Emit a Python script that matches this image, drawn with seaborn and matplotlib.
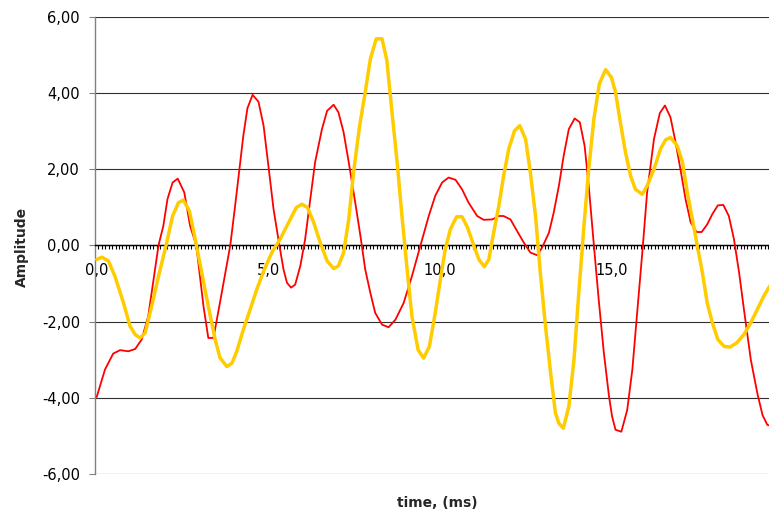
import matplotlib
matplotlib.use("Agg")
import matplotlib.pyplot as plt
import numpy as np
import pandas as pd
import seaborn as sns
from matplotlib.ticker import FixedLocator, FuncFormatter, MultipleLocator

# ---------------- data ----------------
red_t = [0.00, 0.24, 0.48, 0.68, 0.92, 1.12, 1.31, 1.50, 1.80, 1.94, 2.06, 2.21, 2.36, 2.55,
         2.72, 2.90, 3.11, 3.25, 3.40, 3.59, 3.89, 4.03, 4.18, 4.27, 4.39, 4.54, 4.71, 4.86,
         5.00, 5.15, 5.32, 5.44, 5.54, 5.66, 5.78, 5.93, 6.07, 6.22, 6.36, 6.56, 6.71, 6.90,
         7.04, 7.19, 7.34, 7.53, 7.68, 7.82, 7.97, 8.11, 8.31, 8.50, 8.70, 8.94, 9.18, 9.43,
         9.67, 9.86, 10.06, 10.25, 10.45, 10.64, 10.83, 11.08, 11.27, 11.52, 11.71, 11.85,
         12.05, 12.24, 12.44, 12.63, 12.83, 12.97, 13.17, 13.31, 13.46, 13.60, 13.75, 13.92,
         14.07, 14.21, 14.33, 14.48, 14.62, 14.77, 14.92, 15.01, 15.11, 15.28, 15.45, 15.60,
         15.74, 15.89, 16.03, 16.23, 16.40, 16.55, 16.71, 16.86, 17.00, 17.15, 17.30, 17.47,
         17.62, 17.78, 17.93, 18.09, 18.25, 18.41, 18.56, 18.71, 18.85, 19.05, 19.24, 19.39,
         19.53, 19.60]
red_v = [-3.98, -3.26, -2.84, -2.75, -2.78, -2.72, -2.47, -1.86, 0.00, 0.51, 1.21, 1.65, 1.75, 1.39,
         0.51, 0.00, -1.60, -2.43, -2.43, -1.50, 0.00, 1.03, 2.18, 2.88, 3.60, 3.95, 3.77, 3.14,
         2.09, 0.95, 0.00, -0.63, -0.98, -1.11, -1.03, -0.54, 0.16, 1.21, 2.18, 3.05, 3.53, 3.69,
         3.49, 2.97, 2.18, 1.12, 0.25, -0.63, -1.25, -1.77, -2.08, -2.15, -1.95, -1.51, -0.81, 0.00,
         0.77, 1.30, 1.65, 1.78, 1.72, 1.47, 1.12, 0.77, 0.67, 0.68, 0.77, 0.77,
         0.68, 0.38, 0.07, -0.19, -0.26, -0.06, 0.33, 0.86, 1.56, 2.35, 3.05, 3.33,
         3.23, 2.61, 1.56, 0.00, -1.42, -2.82, -3.96, -4.49, -4.84, -4.89, -4.32, -3.26,
         -1.77, -0.19, 1.39, 2.79, 3.47, 3.67, 3.36, 2.70, 2.00, 1.21, 0.60, 0.35,
         0.35, 0.55, 0.82, 1.05, 1.06, 0.77, 0.16, -0.72, -1.68, -3.00, -3.88, -4.45,
         -4.71, -4.73]

yel_t = [0.00, 0.15, 0.34, 0.53, 0.78, 0.97, 1.12, 1.26, 1.41, 1.60, 1.80, 2.02, 2.21, 2.38,
         2.52, 2.70, 2.87, 3.06, 3.25, 3.45, 3.59, 3.79, 3.94, 4.08, 4.27, 4.47, 4.66, 4.86,
         5.10, 5.34, 5.59, 5.81, 5.98, 6.14, 6.32, 6.51, 6.71, 6.90, 7.04, 7.19, 7.34, 7.48,
         7.58, 7.66, 7.82, 7.97, 8.14, 8.31, 8.45, 8.60, 8.75, 8.89, 9.04, 9.18, 9.36, 9.52,
         9.69, 9.86, 10.01, 10.15, 10.30, 10.48, 10.64, 10.80, 10.98, 11.13, 11.29, 11.42,
         11.56, 11.71, 11.85, 12.00, 12.17, 12.32, 12.49, 12.63, 12.78, 12.92, 13.07, 13.22,
         13.36, 13.46, 13.59, 13.75, 13.90, 14.04, 14.19, 14.33, 14.48, 14.64, 14.82, 14.99,
         15.11, 15.25, 15.40, 15.55, 15.69, 15.89, 16.03, 16.23, 16.42, 16.57, 16.71, 16.91,
         17.06, 17.20, 17.35, 17.49, 17.64, 17.78, 17.93, 18.09, 18.27, 18.44, 18.64, 18.85,
         19.05, 19.24, 19.43, 19.60]
yel_v = [-0.37, -0.31, -0.41, -0.81, -1.51, -2.12, -2.34, -2.43, -2.30, -1.60, -0.81, 0.00, 0.77, 1.12,
         1.19, 0.90, 0.16, -0.72, -1.60, -2.47, -2.95, -3.18, -3.09, -2.78, -2.21, -1.68, -1.16, -0.68,
         -0.19, 0.16, 0.60, 0.99, 1.08, 0.99, 0.60, 0.07, -0.41, -0.61, -0.54, -0.19, 0.68, 1.91,
         2.61, 3.15, 4.02, 4.89, 5.42, 5.42, 4.85, 3.49, 2.18, 0.77, -0.63, -1.86, -2.74, -2.96,
         -2.65, -1.77, -0.89, -0.11, 0.42, 0.75, 0.75, 0.47, 0.00, -0.37, -0.56, -0.37,
         0.33, 1.03, 1.82, 2.53, 3.01, 3.14, 2.79, 1.91, 0.77, -0.72, -2.12, -3.35,
         -4.40, -4.67, -4.80, -4.23, -3.00, -1.25, 0.51, 2.00, 3.32, 4.24, 4.61, 4.41,
         4.02, 3.23, 2.44, 1.82, 1.47, 1.34, 1.56, 2.00, 2.53, 2.77, 2.83, 2.61,
         2.18, 1.39, 0.68, 0.00, -0.72, -1.51, -2.03, -2.47, -2.65, -2.67, -2.56, -2.34,
         -2.03, -1.68, -1.33, -1.07]

x_major = [0, 5, 10, 15]
x_labels = ["0,0", "5,0", "10,0", "15,0"]
y_major = [-6, -4, -2, 0, 2, 4, 6]

df = pd.concat([
    pd.DataFrame({"time": red_t, "amp": red_v, "series": "Series 1"}),
    pd.DataFrame({"time": yel_t, "amp": yel_v, "series": "Series 2"}),
], ignore_index=True)

# ---------------- plot ----------------
sns.set_theme(style="white")
plt.rcParams["font.family"] = ["DejaVu Sans"]

W, H = 769, 515
fig = plt.figure(figsize=(W / 100, H / 100), dpi=100)
ax = fig.add_axes([95 / W, (H - 474) / H, (W - 95) / W, (474 - 16.7) / H])

sns.lineplot(data=df, x="time", y="amp", hue="series", palette=["#FF0000", "#FFCC00"],
             estimator=None, sort=False, legend=False, ax=ax)
lines = ax.get_lines()
lines[0].set_linewidth(1.3)
lines[0].set_zorder(3)
lines[1].set_linewidth(2.5)
lines[1].set_zorder(4)

ax.set_xlim(-0.05, 19.58)
ax.set_ylim(-6, 6)

# y axis
ax.yaxis.set_major_locator(FixedLocator(y_major))
ax.yaxis.set_major_formatter(FuncFormatter(lambda v, p: f"{v:.2f}".replace(".", ",")))
ax.yaxis.grid(True, color="#303030", linewidth=0.8)
ax.xaxis.grid(False)
ax.tick_params(axis="y", which="major", direction="out", length=4.3, width=0.8,
               color="#808080", pad=6.5, labelsize=10.5, labelcolor="black", left=True)

# x axis crossing at zero
ax.spines["bottom"].set_position(("data", 0))
ax.spines["bottom"].set_color("black")
ax.spines["bottom"].set_linewidth(1.0)
ax.spines["left"].set_color("#808080")
ax.spines["left"].set_linewidth(1.0)
ax.spines["top"].set_visible(False)
ax.spines["right"].set_visible(False)

ax.xaxis.set_major_locator(FixedLocator(x_major))
ax.xaxis.set_major_formatter(FuncFormatter(lambda v, p: x_labels[x_major.index(int(round(v)))]))
ax.xaxis.set_minor_locator(FixedLocator(np.arange(0.05, 19.6, 0.1)))
ax.tick_params(axis="x", which="major", length=0, pad=13, labelsize=10.5, labelcolor="black",
               bottom=True)
ax.tick_params(axis="x", which="minor", direction="out", length=3.0, width=0.8,
               color="black", bottom=True)

ax.set_xlabel("")
ax.set_ylabel("")
fig.text(22 / W, 1 - 247 / H, "Amplitude", rotation=90, ha="center", va="center",
         fontsize=10, fontweight="bold")
fig.text(437 / W, 1 - 503 / H, "time, (ms)", ha="center", va="center",
         fontsize=10, fontweight="bold")

fig.savefig("out.png", dpi=100)
